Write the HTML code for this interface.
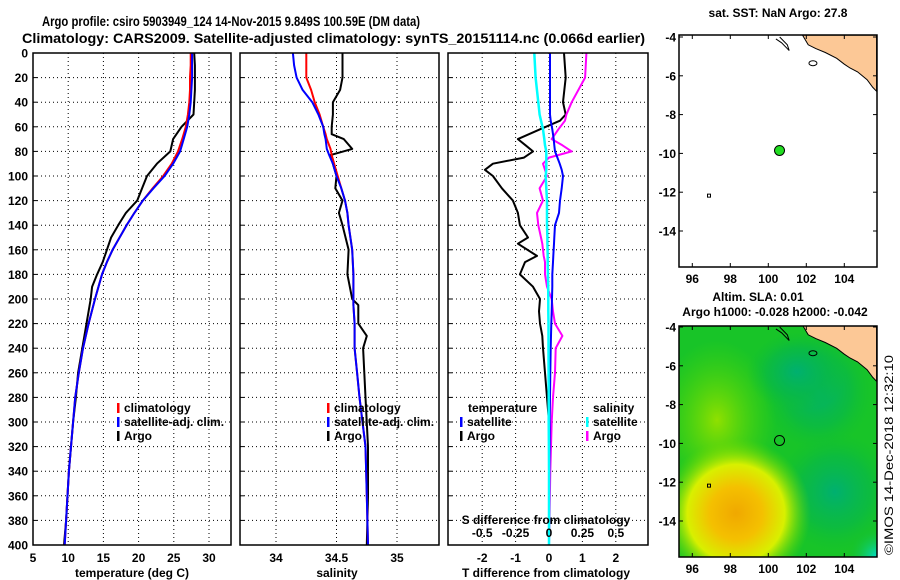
<!DOCTYPE html>
<html><head><meta charset="utf-8"><style>
html,body{margin:0;padding:0;background:#fff;}
svg{display:block;font-family:"Liberation Sans",sans-serif;font-weight:bold;}
</style></head><body>
<svg id="c" width="900" height="580" viewBox="0 0 900 580">
<defs>
<clipPath id="mapclip"><rect x="679" y="326" width="198" height="231"/></clipPath>
<clipPath id="mapclip1"><rect x="679" y="35" width="198" height="232"/></clipPath>
<radialGradient id="gY" cx="0.5" cy="0.5" r="0.5"><stop offset="0" stop-color="#f0a800"/><stop offset="0.35" stop-color="#f4c000"/><stop offset="0.65" stop-color="#d8f000"/><stop offset="1" stop-color="#60d800" stop-opacity="0"/></radialGradient>
<radialGradient id="gB" cx="0.5" cy="0.5" r="0.5"><stop offset="0" stop-color="#00b070"/><stop offset="0.6" stop-color="#08b848" stop-opacity="0.7"/><stop offset="1" stop-color="#10c030" stop-opacity="0"/></radialGradient>
<radialGradient id="gL" cx="0.5" cy="0.5" r="0.5"><stop offset="0" stop-color="#90e000"/><stop offset="1" stop-color="#50d800" stop-opacity="0"/></radialGradient>
<radialGradient id="gC" cx="0.5" cy="0.5" r="0.5"><stop offset="0" stop-color="#00e0e0"/><stop offset="1" stop-color="#10c040" stop-opacity="0"/></radialGradient>
</defs>
<text x="42" y="26" font-size="14" textLength="378" lengthAdjust="spacingAndGlyphs">Argo profile: csiro 5903949_124 14-Nov-2015 9.849S 100.59E (DM data)</text>
<text x="22" y="43" font-size="14" textLength="623" lengthAdjust="spacingAndGlyphs">Climatology: CARS2009. Satellite-adjusted climatology: synTS_20151114.nc (0.066d earlier)</text>
<g id="plots"></g>
<g id="maps"></g>
<text transform="translate(893,555) rotate(-90)" font-size="12" font-weight="normal" textLength="200" lengthAdjust="spacingAndGlyphs">©IMOS 14-Dec-2018 12:32:10</text>
</svg>
<script>
// ---- data ----
const depths = [0,10,20,30,40,50,60,70,80,90,100,110,120,130,140,150,160,170,180,190,200,220,240,260,280,300,320,340,360,380,400];
const tempClim = [27.4,27.4,27.3,27.3,27.2,27.0,26.7,26.2,25.6,24.7,23.5,22.0,20.6,19.4,18.3,17.3,16.3,15.5,14.8,14.3,13.8,12.9,12.1,11.5,11.0,10.7,10.4,10.1,9.9,9.7,9.5];
const tempSat = [27.6,27.6,27.6,27.5,27.4,27.2,26.9,26.4,25.9,24.9,23.7,22.1,20.6,19.4,18.3,17.3,16.3,15.5,14.8,14.3,13.8,12.9,12.1,11.5,11.0,10.7,10.4,10.1,9.9,9.7,9.5];
const tempArgo = [27.9,28.0,28.0,28.0,27.9,27.8,26.1,24.9,24.5,22.6,21.2,20.5,19.8,18.2,17.1,16.1,15.5,14.9,14.1,13.4,13.2,12.6,12.0,11.4,11.1,10.7,10.4,10.1,9.9,9.7,9.4];
const salDepths = [0,10,20,30,40,50,60,66,70,78,83,90,100,110,120,130,140,160,180,200,205,220,230,240,260,280,320,360,400];
const salClim = [34.25,34.25,34.25,34.29,34.32,34.36,34.39,34.41,34.42,34.45,34.46,34.48,34.51,34.54,34.57,34.59,34.6,34.63,34.64,34.64,34.64,34.65,34.65,34.65,34.67,34.69,34.74,34.75,34.76];
const salSat = [34.14,34.15,34.17,34.22,34.3,34.35,34.39,34.4,34.41,34.42,34.44,34.47,34.5,34.54,34.57,34.59,34.6,34.63,34.64,34.64,34.64,34.65,34.65,34.65,34.67,34.69,34.74,34.75,34.76];
const salArgo = [34.55,34.55,34.55,34.53,34.47,34.47,34.46,34.46,34.56,34.63,34.45,34.47,34.5,34.49,34.55,34.52,34.55,34.6,34.59,34.63,34.68,34.68,34.75,34.72,34.73,34.74,34.76,34.76,34.75];
const diffDepths = [0,20,40,50,55,62,70,75,80,85,90,95,100,110,120,130,140,150,155,165,170,180,190,200,210,220,230,240,260,280,300,320,340,400];
const dTSat = [0.03,0.03,0.03,0.03,0.05,0.1,0.14,0.16,0.18,0.25,0.32,0.38,0.42,0.38,0.33,0.3,0.18,0.16,0.15,0.13,0.12,0.1,0.1,0.09,0.08,0.07,0.06,0.05,0.04,0.03,0.02,0.02,0.01,0.0];
const dTArgo = [0.45,0.5,0.42,0.5,0.33,-0.27,-0.93,-0.7,-0.48,-0.75,-1.68,-1.92,-1.68,-1.41,-1.08,-0.93,-0.87,-0.63,-0.93,-0.36,-0.72,-0.87,-0.48,-0.27,-0.3,-0.27,-0.2,-0.18,-0.12,-0.06,0.0,0.0,0.0,0.0];
const dSSat = [-0.11,-0.1,-0.08,-0.07,-0.06,-0.045,-0.035,-0.03,-0.02,-0.02,-0.02,-0.02,-0.025,-0.02,-0.015,-0.015,-0.015,-0.012,-0.012,-0.01,-0.01,-0.008,-0.006,-0.005,-0.005,-0.004,-0.004,-0.004,-0.003,-0.002,-0.002,-0.001,0.0,0.0];
const dSArgo = [0.28,0.27,0.17,0.13,0.12,0.07,0.02,0.1,0.17,0.0,-0.045,-0.03,-0.015,-0.07,-0.045,-0.09,-0.08,-0.06,-0.05,-0.04,-0.03,-0.03,-0.015,0.02,0.03,0.045,0.1,0.05,0.045,0.03,0.02,0.015,0.01,0.0];
const depthTicks = [0,20,40,60,80,100,120,140,160,180,200,220,240,260,280,300,320,340,360,380,400];
const tempTicks = [5,10,15,20,25,30];
const salTicks = [34,34.5,35];
const tdTicks = [-2,-1,0,1,2];
const sdTicks = [-0.5,-0.25,0,0.25,0.5];
const sdTickLabels = ["-0.5","-0.25","0","0.25","0.5"];
const lonTicks = [96,98,100,102,104];
const latTicks = [-4,-6,-8,-10,-12,-14];
const argoLon = 100.59, argoLat = -9.849;
const landLon = [101.8,102.1,102.5,103.0,103.6,104.0,104.3,104.7,105.2,105.5,105.7,105.7];
const landLat = [-3.9,-4.4,-4.6,-4.8,-5.1,-5.4,-5.6,-5.8,-6.2,-6.6,-6.8,-3.9];

// ---- scales ----
const Y0=53, Y1=545;
const yD = d => Y0 + d*(Y1-Y0)/400;
const xT = t => 33 + (t-5)*7.04;
const xS = s => 276 + (s-34)*121;
const xdT = t => 549 + t*33.4;
const xdS = s => 549 + s*133.6;
const mxL = lon => 679 + (lon-95.3)*19;
const myTop = lat => 37 + (-4-lat)*19.4;
const myBot = lat => 327 + (-4-lat)*19.4;

const NS="http://www.w3.org/2000/svg";
const plots=document.getElementById('plots');
const maps=document.getElementById('maps');
function el(tag, parent){const e=document.createElementNS(NS,tag);parent.appendChild(e);return e;}

function panel(x0,x1,name){
  const g=el('g',plots);
  
  
  depthTicks.forEach(d=>{ if(d>0&&d<400){
    const l=el('line',g); l.setAttribute('x1',x0); l.setAttribute('x2',x1); l.setAttribute('y1',yD(d)); l.setAttribute('y2',yD(d));
    l.setAttribute('stroke','#000'); l.setAttribute('stroke-dasharray','1,3');
    
    
    const t1=el('line',g); t1.setAttribute('x1',x0); t1.setAttribute('x2',x0+4); t1.setAttribute('y1',yD(d)); t1.setAttribute('y2',yD(d)); t1.setAttribute('stroke','#000');
    
    
  }});
  return g;
}
function vgrid(g,xs){xs.forEach(x=>{const l=el('line',g);l.setAttribute('x1',x);l.setAttribute('x2',x);l.setAttribute('y1',Y0);l.setAttribute('y2',Y1);l.setAttribute('stroke','#000');l.setAttribute('stroke-dasharray','1,3');
  
  });}
function frame(g,x0,x1){const r=el('rect',g);r.setAttribute('x',x0);r.setAttribute('y',Y0);r.setAttribute('width',x1-x0);r.setAttribute('height',Y1-Y0);r.setAttribute('fill','none');r.setAttribute('stroke','#000');r.setAttribute('stroke-width','1.5');
  
  }
function line(g,xs,ds,xf,color,w,name){
  const p=el('polyline',g);
  p.setAttribute('points', xs.map((v,i)=>xf(v).toFixed(1)+','+yD(ds[i]).toFixed(1)).join(' '));
  p.setAttribute('fill','none'); p.setAttribute('stroke',color); p.setAttribute('stroke-width',w); p.setAttribute('stroke-linejoin','round');
  
  
}
function text(g,x,y,s,anchor,size,name,color){
  const t=el('text',g); t.setAttribute('x',x); t.setAttribute('y',y); t.setAttribute('font-size',size||12);
  if(anchor) t.setAttribute('text-anchor',anchor); if(color) t.setAttribute('fill',color);
  t.textContent=s;
  
  
  return t;
}
function legTick(g,x,y,color){const r=el('rect',g);r.setAttribute('x',x);r.setAttribute('y',y-10);r.setAttribute('width',2.5);r.setAttribute('height',10);r.setAttribute('fill',color);
  
  }

// Panel 1 temperature
const p1=panel(33,231,'temperature-panel');
vgrid(p1,[10,15,20,25,30].map(xT));
line(p1,tempArgo,depths,xT,'#000',2,'temp-argo-line');
line(p1,tempClim,depths,xT,'#f00',2,'temp-climatology-line');
line(p1,tempSat,depths,xT,'#00f',2,'temp-satellite-line');
frame(p1,33,231);
depthTicks.forEach(d=>text(p1,28,yD(d)+4.5,String(d),'end',12,'depth-tick-label'));
tempTicks.forEach(t=>text(p1,xT(t),562,String(t),'middle',12,'temp-tick-label'));
text(p1,132,577,'temperature (deg C)','middle',12,'x-axis-title-temperature');
legTick(p1,117,413,'#f00');legTick(p1,117,427,'#00f');legTick(p1,117,441,'#000');
text(p1,124,412,'climatology','start',12,'legend-climatology');
text(p1,124,426,'satellite-adj. clim.','start',12,'legend-satellite-adj');
text(p1,124,440,'Argo','start',12,'legend-argo');

// Panel 2 salinity
const p2=panel(240,439,'salinity-panel');
vgrid(p2,salTicks.map(xS));
line(p2,salArgo,salDepths,xS,'#000',2,'sal-argo-line');
line(p2,salClim,salDepths,xS,'#f00',2,'sal-climatology-line');
line(p2,salSat,salDepths,xS,'#00f',2,'sal-satellite-line');
frame(p2,240,439);
salTicks.forEach(s=>text(p2,xS(s),562,String(s),'middle',12,'sal-tick-label'));
text(p2,337,577,'salinity','middle',12,'x-axis-title-salinity');
legTick(p2,327,413,'#f00');legTick(p2,327,427,'#00f');legTick(p2,327,441,'#000');
text(p2,334,412,'climatology','start',12,'legend-climatology');
text(p2,334,426,'satellite-adj. clim.','start',12,'legend-satellite-adj');
text(p2,334,440,'Argo','start',12,'legend-argo');

// Panel 3 differences
const p3=panel(448,648,'difference-panel');
vgrid(p3,tdTicks.map(xdT));
line(p3,dTArgo,diffDepths,xdT,'#000',2,'tdiff-argo-line');
line(p3,dSArgo,diffDepths,xdS,'#f0f',2,'sdiff-argo-line');
line(p3,dTSat,diffDepths,xdT,'#00f',2,'tdiff-satellite-line');
line(p3,dSSat,diffDepths,xdS,'#0ff',2.5,'sdiff-satellite-line');
frame(p3,448,648);
tdTicks.forEach(t=>text(p3,xdT(t),562,String(t),'middle',12,'tdiff-tick-label'));
text(p3,546,577,'T difference from climatology','middle',12,'x-axis-title-tdiff');
sdTicks.forEach((s,i)=>text(p3,xdS(s),537,sdTickLabels[i],'middle',12,'sdiff-tick-label'));
text(p3,546,524,'S difference from climatology','middle',12,'sdiff-axis-title');
text(p3,468,412,'temperature','start',12,'legend-temperature-heading');
legTick(p3,460,427,'#00f');legTick(p3,460,441,'#000');
text(p3,467,426,'satellite','start',12,'legend-t-satellite');
text(p3,467,440,'Argo','start',12,'legend-t-argo');
text(p3,593,412,'salinity','start',12,'legend-salinity-heading');
legTick(p3,586,427,'#0ff');legTick(p3,586,441,'#f0f');
text(p3,593,426,'satellite','start',12,'legend-s-satellite');
text(p3,593,440,'Argo','start',12,'legend-s-argo');

// ---- maps ----
function mapAxes(g,top,bot,my){
  lonTicks.forEach(l=>{
    text(g,mxL(l),bot+16,String(l),'middle',12,'lon-tick-label');
    [[top,top+4],[bot-4,bot]].forEach(a=>{const t=el('line',g);t.setAttribute('x1',mxL(l));t.setAttribute('x2',mxL(l));t.setAttribute('y1',a[0]);t.setAttribute('y2',a[1]);t.setAttribute('stroke','#000');
      
      });
  });
  latTicks.forEach(l=>{
    text(g,676,my(l)+4.5,String(l),'end',12,'lat-tick-label');
    [[679,683],[873,877]].forEach(a=>{const t=el('line',g);t.setAttribute('x1',a[0]);t.setAttribute('x2',a[1]);t.setAttribute('y1',my(l));t.setAttribute('y2',my(l));t.setAttribute('stroke','#000');
      
      });
  });
  const r=el('rect',g);r.setAttribute('x',679);r.setAttribute('y',top);r.setAttribute('width',198);r.setAttribute('height',bot-top);r.setAttribute('fill','none');r.setAttribute('stroke','#000');r.setAttribute('stroke-width','1.5');
  
  
}
function land(g,my,clip){
  const p=el('polygon',g);
  p.setAttribute('points',landLon.map((l,i)=>mxL(l).toFixed(1)+','+my(landLat[i]).toFixed(1)).join(' '));
  p.setAttribute('fill','#fcc896'); p.setAttribute('stroke','#000'); p.setAttribute('stroke-width','1'); p.setAttribute('clip-path','url(#'+clip+')');
  
  
  const i1=el('ellipse',g);i1.setAttribute('cx',mxL(102.35));i1.setAttribute('cy',my(-5.35));i1.setAttribute('rx',4);i1.setAttribute('ry',2.5);i1.setAttribute('fill','none');i1.setAttribute('stroke','#000');
  
  
  const i2=el('polyline',g);i2.setAttribute('points',[[100.4,-4.1],[100.7,-4.3],[101.1,-4.7],[101.0,-4.4],[100.6,-4.0]].map(p=>mxL(p[0])+','+my(p[1])).join(' '));i2.setAttribute('fill','none');i2.setAttribute('stroke','#000');
  
  
  const i3=el('rect',g);i3.setAttribute('x',mxL(96.8));i3.setAttribute('y',my(-12.1));i3.setAttribute('width',3);i3.setAttribute('height',3);i3.setAttribute('fill','none');i3.setAttribute('stroke','#000');
  
  
}
// top map
const m1=el('g',maps);


text(m1,778,17,'sat. SST: NaN Argo: 27.8','middle',12,'sst-map-title');
land(m1,myTop,'mapclip1');
const dot=el('circle',m1);dot.setAttribute('cx',mxL(argoLon));dot.setAttribute('cy',myTop(argoLat));dot.setAttribute('r',5);dot.setAttribute('fill','#22dd22');dot.setAttribute('stroke','#000');


mapAxes(m1,35,267,myTop);

// bottom map
const m2=el('g',maps);


text(m2,758,301,'Altim. SLA: 0.01','middle',12,'sla-map-title');
text(m2,775,316,'Argo h1000: -0.028 h2000: -0.042','middle',12,'sla-map-subtitle');
const fg=el('g',m2); fg.setAttribute('clip-path','url(#mapclip)');


const blobs=[[679,326,198,231,'#18c428',null],[mxL(97.3),myBot(-8.8),60,80,'url(#gL)',1],[mxL(102.6),myBot(-7.3),55,60,'url(#gB)',1],[mxL(101.5),myBot(-6.3),50,40,'url(#gB)',1],[mxL(103.5),myBot(-12.5),60,60,'url(#gB)',1],[mxL(98.3),myBot(-13.6),75,75,'url(#gY)',1],[mxL(105.8),myBot(-15.9),30,30,'url(#gC)',1]];
blobs.forEach(b=>{
  let e;
  if(b[5]){e=el('ellipse',fg);e.setAttribute('cx',b[0]);e.setAttribute('cy',b[1]);e.setAttribute('rx',b[2]);e.setAttribute('ry',b[3]);}
  else{e=el('rect',fg);e.setAttribute('x',b[0]);e.setAttribute('y',b[1]);e.setAttribute('width',b[2]);e.setAttribute('height',b[3]);}
  e.setAttribute('fill',b[4]);
  
  
});
land(m2,myBot,'mapclip');
const ring=el('circle',m2);ring.setAttribute('cx',mxL(argoLon));ring.setAttribute('cy',myBot(argoLat));ring.setAttribute('r',5);ring.setAttribute('fill','none');ring.setAttribute('stroke','#000');


mapAxes(m2,326,557,myBot);
</script>
</body></html>
